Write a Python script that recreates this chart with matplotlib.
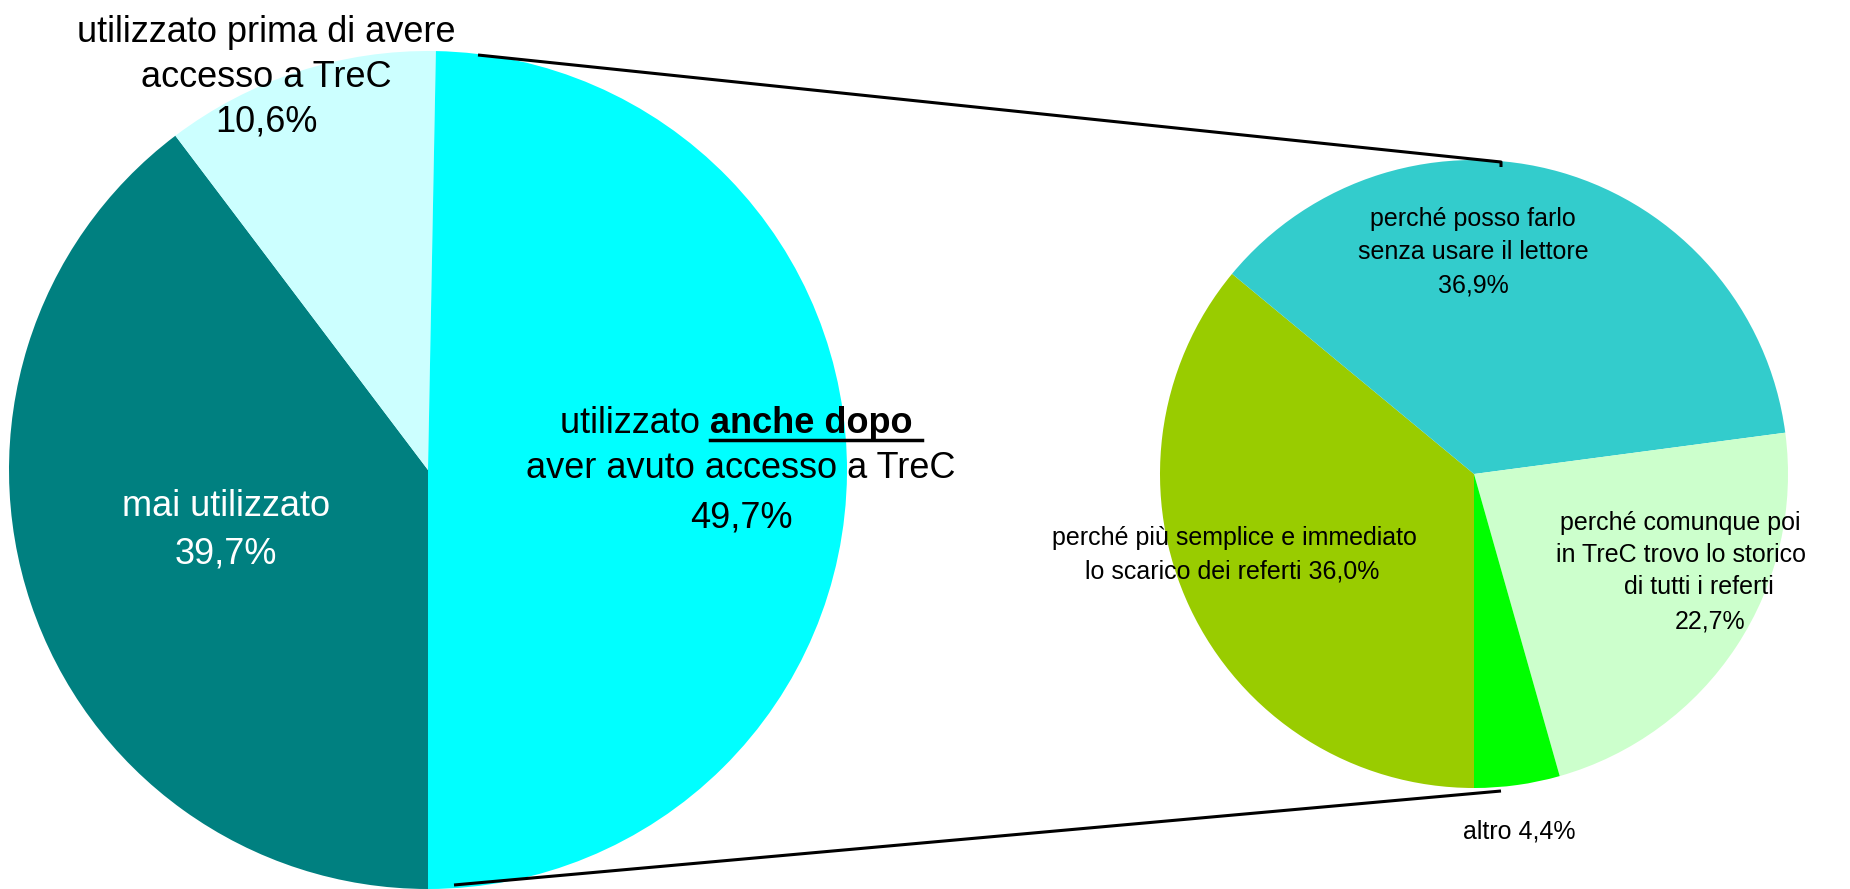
import matplotlib
matplotlib.use("Agg")
import matplotlib.pyplot as plt

plt.rcParams['font.family'] = ['Liberation Sans', 'DejaVu Sans']

# Data
left_labels = ["mai utilizzato", "utilizzato prima di avere\naccesso a TreC", "utilizzato anche dopo\naver avuto accesso a TreC"]
left_values = [39.7, 10.6, 49.7]
left_colors = ["#008080", "#CCFFFF", "#00FFFF"]

right_labels = ["perché più semplice e immediato\nlo scarico dei referti",
                "perché posso farlo\nsenza usare il lettore",
                "perché comunque poi\nin TreC trovo lo storico\ndi tutti i referti",
                "altro"]
right_values = [36.0, 36.9, 22.7, 4.4]
right_colors = ["#99CC00", "#33CCCC", "#CCFFCC", "#00FF00"]

W, H = 1850, 889
fig = plt.figure(figsize=(W / 100, H / 100), dpi=100)
ax = fig.add_axes([0, 0, 1, 1])

def fmt(v):
    return f"{v:.1f}".replace(".", ",") + "%"

ax.pie(left_values, colors=left_colors, startangle=-90, counterclock=False,
       center=(428, 419), radius=419, wedgeprops=dict(linewidth=0))
ax.pie(right_values, colors=right_colors, startangle=-90, counterclock=False,
       center=(1474, 415), radius=314, wedgeprops=dict(linewidth=0))

ax.set_xlim(0, W)
ax.set_ylim(0, H)
ax.set_aspect('equal')
ax.axis('off')

# connector lines
ax.plot([478, 1501, 1501], [834, 727, 722], color='black', lw=2.2, solid_capstyle='butt')
ax.plot([454, 1501], [4, 98], color='black', lw=2.2, solid_capstyle='butt')


def lines(texts, xs, ys, size, color='black'):
    for t, x, y in zip(texts, xs, ys):
        ax.text(x, y, t, ha='center', va='baseline', fontsize=size, color=color)


LFS = 26
# left labels
l1 = left_labels[1].split("\n") + [fmt(left_values[1])]
lines(l1, [266] * 3, [847, 802, 757], LFS)
l0 = [left_labels[0], fmt(left_values[0])]
lines(l0, [226] * 2, [373, 325], LFS, color='white')

# "utilizzato anche dopo" label with bold underlined part
l2 = left_labels[2].split("\n")
cx = 741
lines([l2[1], fmt(left_values[2])], [cx, cx], [411, 362], LFS)
fig.canvas.draw()
r = fig.canvas.get_renderer()
first = l2[0].split(" ", 1)
ta = ax.text(0, 0, first[0] + " ", fontsize=LFS, ha='left', va='baseline')
tb = ax.text(0, 0, first[1] + " ", fontsize=LFS, ha='left', va='baseline', fontweight='bold')
wa = ta.get_window_extent(r).width
wb = tb.get_window_extent(r).width
x0 = cx - (wa + wb) / 2
yb = 456
ta.set_position((x0, yb))
tb.set_position((x0 + wa, yb))
ax.plot([x0 + wa, x0 + wa + wb], [yb - 7, yb - 7], color='black', lw=2.5)

RFS = 18
r1 = right_labels[1].split("\n") + [fmt(right_values[1])]
lines(r1, [1473] * 3, [663, 630, 597], RFS)
r0 = right_labels[0].split("\n")
r0[-1] += " " + fmt(right_values[0])
lines(r0, [1234, 1232], [344, 310], RFS)
r2 = right_labels[2].split("\n") + [fmt(right_values[2])]
lines(r2, [1680, 1681, 1699, 1710], [359, 327, 295, 261], RFS)
lines([right_labels[3] + " " + fmt(right_values[3])], [1519], [50], RFS)

fig.savefig("out.png", dpi=100)
